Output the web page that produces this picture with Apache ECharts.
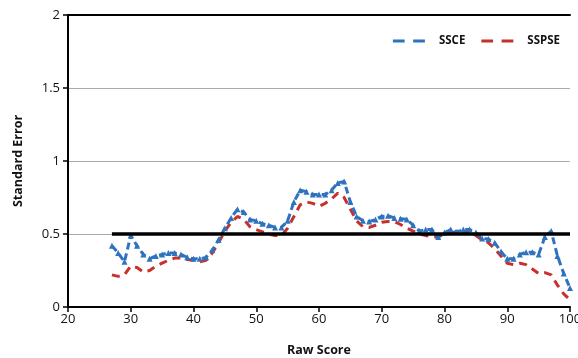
<!DOCTYPE html>
<html>
<head>
<meta charset="utf-8">
<script src="https://cdn.jsdelivr.net/npm/echarts@6/dist/echarts.min.js"></script>
<style>
  html, body { margin: 0; padding: 0; background: #fff; }
  #chart { width: 578px; height: 358px; }
</style>
</head>
<body>
<div id="chart"></div>
<script>
// raw scores 27..100
const rawScores = [27,28,29,30,31,32,33,34,35,36,37,38,39,40,41,42,43,44,45,46,47,48,49,50,51,52,53,54,55,56,57,58,59,60,61,62,63,64,65,66,67,68,69,70,71,72,73,74,75,76,77,78,79,80,81,82,83,84,85,86,87,88,89,90,91,92,93,94,95,96,97,98,99,100];

const ssce = [0.42,0.37,0.31,0.49,0.42,0.36,0.33,0.35,0.36,0.37,0.37,0.36,0.34,0.33,0.33,0.34,0.39,0.46,0.54,0.61,
  0.67,0.65,0.60,0.59,0.57,0.56,0.545,0.545,0.59,0.72,0.80,0.79,0.77,0.77,0.77,0.80,0.85,0.86,0.72,0.62,
  0.59,0.585,0.60,0.62,0.625,0.61,0.605,0.60,0.56,0.52,0.53,0.53,0.48,0.51,0.53,0.515,0.53,0.53,0.51,0.47,
  0.465,0.44,0.38,0.33,0.33,0.36,0.375,0.375,0.36,0.48,0.52,0.35,0.23,0.13];

const sspse = [0.22,0.21,0.22,0.28,0.27,0.24,0.25,0.28,0.30,0.32,0.335,0.335,0.325,0.32,0.31,0.32,0.37,0.44,0.52,0.58,
  0.62,0.60,0.55,0.53,0.515,0.50,0.49,0.49,0.54,0.62,0.70,0.72,0.71,0.69,0.71,0.74,0.78,0.75,0.67,0.59,
  0.55,0.545,0.56,0.58,0.585,0.585,0.565,0.54,0.52,0.50,0.49,0.48,0.48,0.50,0.51,0.515,0.515,0.515,0.49,0.46,
  0.44,0.40,0.35,0.30,0.29,0.30,0.29,0.26,0.23,0.235,0.22,0.15,0.09,0.05];

// horizontal reference at 0.5
const refLine = [[27, 0.5], [100, 0.5]];

const font = 'Open Sans';
const pair = (ys) => rawScores.map((x, i) => [x, ys[i]]);
// two-dash legend icon
const dashIcon = 'path://M0,0h11v3h-11z M19,0h11v3h-11z';

const chart = echarts.init(document.getElementById('chart'));
chart.setOption({
  animation: false,
  grid: { left: 68, right: 8, top: 15, bottom: 51, outerBoundsMode: 'none' },
  legend: {
    right: 13, top: 30,
    itemWidth: 32, itemHeight: 4, itemGap: 16,
    textStyle: { fontFamily: font, fontSize: 11.5, fontWeight: 'bold', color: '#111', padding: [0, 0, 0, 9] },
    data: [
      { name: 'SSCE', icon: dashIcon },
      { name: 'SSPSE', icon: dashIcon }
    ]
  },
  xAxis: [{
    type: 'value', min: 20, max: 100, interval: 10,
    name: 'Raw Score', nameLocation: 'middle', nameGap: 37,
    nameTextStyle: { fontFamily: font, fontSize: 12.5, fontWeight: 'bold', color: '#111' },
    axisLine: { lineStyle: { color: '#000', width: 2 } },
    axisTick: { length: 5, lineStyle: { color: '#000', width: 1.5 } },
    axisLabel: { fontFamily: font, fontSize: 13, color: '#111', margin: 6 },
    splitLine: { show: false }
  }, {
    type: 'value', min: 20, max: 100, position: 'top',
    axisLine: { show: true, lineStyle: { color: '#000', width: 2 } },
    axisTick: { show: false }, axisLabel: { show: false }, splitLine: { show: false }
  }],
  yAxis: {
    type: 'value', min: 0, max: 2, interval: 0.5,
    name: 'Standard Error', nameLocation: 'middle', nameGap: 43,
    nameTextStyle: { fontFamily: font, fontSize: 12.5, fontWeight: 'bold', color: '#111' },
    axisLine: { show: true, lineStyle: { color: '#000', width: 2 } },
    axisTick: { show: true, length: 5, lineStyle: { color: '#000', width: 1.5 } },
    axisLabel: { fontFamily: font, fontSize: 13, color: '#111', margin: 8 },
    splitLine: { lineStyle: { color: '#aaa', width: 1 } }
  },
  series: [{
    name: 'SSCE', type: 'line', data: pair(ssce),
    color: '#2f72be',
    symbol: 'triangle', symbolSize: 6, showSymbol: true,
    lineStyle: { width: 3, type: [7, 4], color: '#2f72be' },
    itemStyle: { color: '#2f72be' },
    z: 3
  }, {
    name: 'SSPSE', type: 'line', data: pair(sspse),
    color: '#c8302c',
    showSymbol: false, symbol: 'none',
    lineStyle: { width: 3, type: [8, 6], color: '#c8302c' },
    z: 2
  }, {
    name: 'ref', type: 'line', data: refLine,
    showSymbol: false, symbol: 'none',
    lineStyle: { width: 3.5, color: '#000' },
    z: 4
  }]
});
</script>
</body>
</html>
